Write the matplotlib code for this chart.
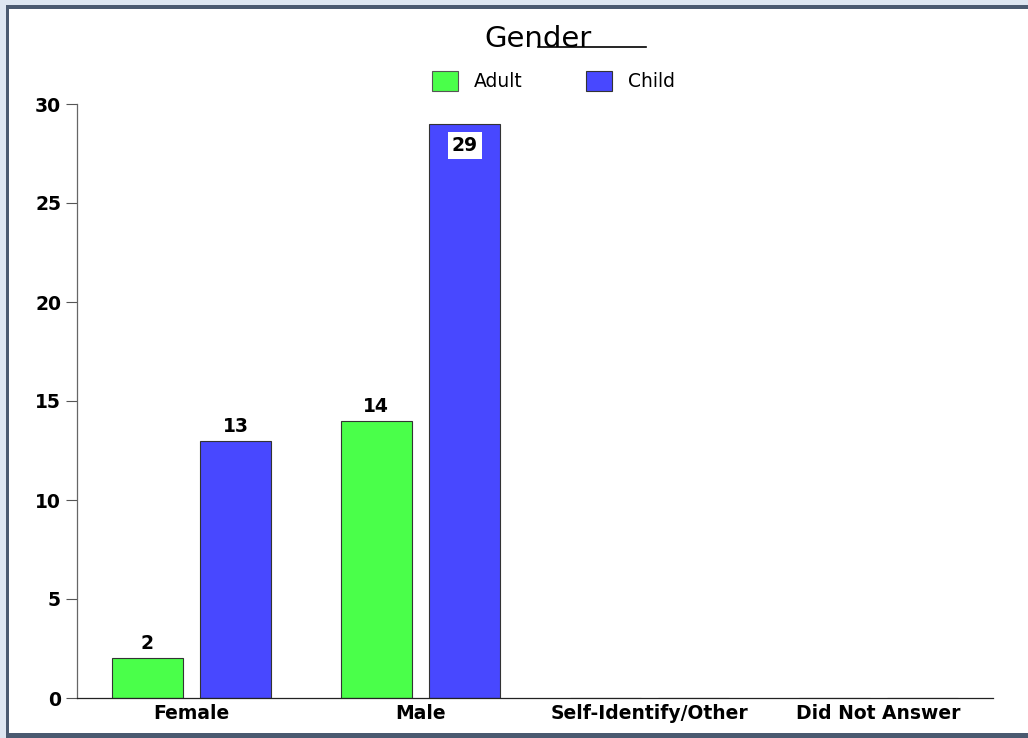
import matplotlib
matplotlib.use("Agg")
import matplotlib.pyplot as plt
from matplotlib.patches import Rectangle, Patch
from matplotlib.lines import Line2D
import numpy as np

plt.rcParams['font.family'] = ['DejaVu Sans']

categories = ["Female", "Male", "Self-Identify/Other", "Did Not Answer"]
adult = [2, 14, 0, 0]
child = [13, 29, 0, 0]
series_names = ["Adult", "Child"]
title = "Gender"
yticks = [0, 5, 10, 15, 20, 25, 30]

W, H = 1028, 738
fig = plt.figure(figsize=(W / 100, H / 100), dpi=100)
fig.patch.set_facecolor("#dde6f1")

# panel frame: dark slate border around a white card
fig.patches.append(Rectangle((6 / W, 0), 1.2, 1 - 5 / H, transform=fig.transFigure,
                             facecolor="#4a5a70", edgecolor="none", zorder=-10))
fig.patches.append(Rectangle((9 / W, 1 - 733 / H), 1.2, (733 - 9) / H, transform=fig.transFigure,
                             facecolor="white", edgecolor="none", zorder=-9))

ax = fig.add_axes([77 / W, 1 - 698 / H, (993 - 77) / W, (698 - 104) / H])
ax.set_facecolor("none")
ax.set_zorder(5)

x = np.arange(len(categories))
off = 0.194
width = 0.31
green = "#4aff4a"
blue = "#4848ff"
b1 = ax.bar(x - off, adult, width, color=green, edgecolor="#333333", linewidth=0.8)
b2 = ax.bar(x + off, child, width, color=blue, edgecolor="#333333", linewidth=0.8)

ax.set_xlim(-0.5, 3.5)
ax.set_ylim(0, 30)
ax.set_yticks(yticks)
ax.set_yticklabels([str(t) for t in yticks], fontsize=13.5, fontweight="bold")
ax.set_xticks(x)
ax.set_xticklabels(categories, fontsize=13.5, fontweight="bold")
ax.tick_params(axis="x", length=0, pad=4)
ax.tick_params(axis="y", length=8, width=0.8, color="#555555", pad=3.5, direction="out")
for s in ["top", "right"]:
    ax.spines[s].set_visible(False)
ax.spines["left"].set_color("#666666")
ax.spines["left"].set_linewidth(0.9)
ax.spines["bottom"].set_color("#222222")
ax.spines["bottom"].set_linewidth(0.9)

for bars, vals in ((b1, adult), (b2, child)):
    for rect, v in zip(bars, vals):
        if v <= 0:
            continue
        cx = rect.get_x() + rect.get_width() / 2
        if v >= 27:
            ax.text(cx, v - 1.1, str(v), ha="center", va="center", fontsize=13.5,
                    fontweight="bold",
                    bbox=dict(facecolor="white", edgecolor="none", pad=3.0))
        else:
            ax.text(cx, v + 0.25, str(v), ha="center", va="bottom", fontsize=13.5,
                    fontweight="bold")

fig.text(538 / W, 1 - 39 / H, title, ha="center", va="center", fontsize=21)
fig.add_artist(Line2D([538 / W, 646 / W], [1 - 47 / H, 1 - 47 / H],
                      transform=fig.transFigure, color="black", linewidth=1.2))

handles = [Patch(facecolor=green, edgecolor="#555555", linewidth=0.8),
           Patch(facecolor=blue, edgecolor="#333333", linewidth=0.8)]
fig.legend(handles, series_names, loc="center", bbox_to_anchor=(553.5 / W, 1 - 81 / H),
           ncol=2, frameon=False, fontsize=13.5, handlelength=1.39, handleheight=1.27,
           columnspacing=3.4, handletextpad=0.85)

fig.savefig("out.png", dpi=100)
